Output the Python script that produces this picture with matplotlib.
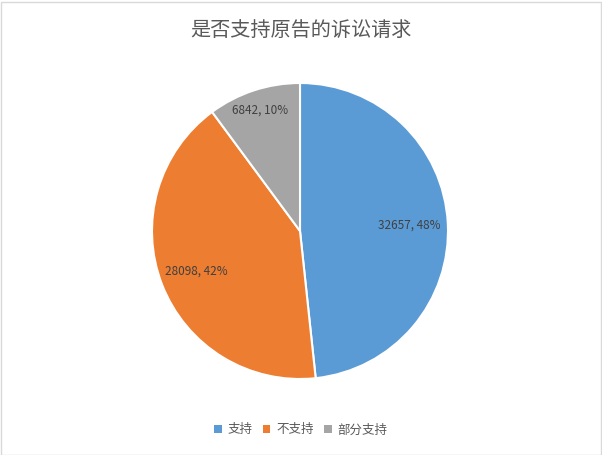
import numpy as np
import matplotlib
matplotlib.use('Agg')
import matplotlib.pyplot as plt
from matplotlib.patches import Rectangle

plt.rcParams['font.family'] = ['Noto Sans CJK SC', 'DejaVu Sans']

# 数据
categories = ['支持', '不支持', '部分支持']
values = [32657, 28098, 6842]
colors = ['#5B9BD5', '#ED7D31', '#A5A5A5']
title = '是否支持原告的诉讼请求'

W, H = 602, 455
fig = plt.figure(figsize=(W / 100, H / 100), dpi=100)

# 外框
fig.patches.append(Rectangle((0.5 / W, 0.5 / H), 1 - 2 / W, 1 - 2 / H,
                             transform=fig.transFigure, fill=False,
                             edgecolor='#D9D9D9', linewidth=1))

# 饼图区域
cx, cy, r = 300, 231, 148
ax = fig.add_axes([(cx - r) / W, (H - cy - r) / H, 2 * r / W, 2 * r / H])

wedges, _ = ax.pie(values, colors=colors, startangle=90, counterclock=False,
                   radius=1, wedgeprops=dict(edgecolor='white', linewidth=1.5))
# pie() 会自己改坐标范围，之后再设
ax.set_xlim(-1, 1)
ax.set_ylim(-1, 1)
ax.set_aspect('equal')
ax.axis('off')

total = sum(values)
dists = [0.74, 0.75, 0.86]
for w, v, d in zip(wedges, values, dists):
    ang = np.deg2rad((w.theta1 + w.theta2) / 2)
    ax.text(d * np.cos(ang), d * np.sin(ang), f'{v}, {round(v / total * 100)}%',
            ha='center', va='center', fontsize=8.5, color='#404040')

fig.text(0.5, 1 - 30 / H, title, ha='center', va='center',
         fontsize=14.5, color='#595959')

handles = [Rectangle((0, 0), 1, 1, facecolor=c) for c in colors]
fig.legend(handles, categories, loc='center', bbox_to_anchor=(0.5, 1 - 430 / H),
           ncol=3, frameon=False, fontsize=9, labelcolor='#595959',
           handlelength=0.6, handleheight=0.6, handletextpad=0.5,
           columnspacing=0.8)

fig.savefig('out.png', dpi=100)
plt.close(fig)
